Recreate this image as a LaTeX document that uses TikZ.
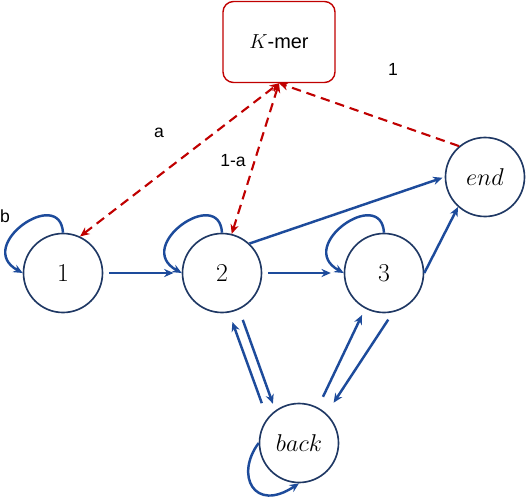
\documentclass[tikz,border=0pt]{standalone}
\usepackage{fontspec}
\setsansfont{Liberation Sans}
\usepackage{tikz}
\usetikzlibrary{arrows.meta}
\definecolor{navy}{HTML}{1F3864}
\definecolor{arrblue}{HTML}{1D4B9B}
\definecolor{darkred}{HTML}{C00000}

\begin{document}
\begin{tikzpicture}[x=0.03cm, y=0.03cm,
  state/.style={draw=navy, line width=1.4pt, circle, minimum size=2.37cm, inner sep=0pt, font=\fontsize{22}{26}\selectfont},
  flow/.style={-{Stealth[length=8pt,width=7pt]}, draw=arrblue, line width=2.1pt},
  link/.style={draw=darkred, line width=1.8pt, dash pattern=on 8pt off 5pt},
  lbl/.style={font=\sffamily\fontsize{15}{17}\selectfont}]
  \useasboundingbox (0,0) rectangle (526,-502);

  % states
  \node[draw=darkred, line width=1.2pt, rounded corners=9pt, minimum width=3.36cm, minimum height=2.43cm]
    (kmer) at (279,-42) {\fontsize{17}{20}\selectfont$K$\sffamily-mer};
  \node[state] (n1) at (63,-273) {1};
  \node[state] (n2) at (222,-273) {2};
  \node[state] (n3) at (384,-273) {3};
  \node[state] (end) at (485,-177) {$end$};
  \node[state] (back) at (299,-443) {$back$};

  % labels
  \node[lbl] (la) at (159,-133) {a};
  \node[lbl] (l1a) at (233,-161) {1-a};
  \node[lbl] (l1) at (393,-69) {1};
  \node[lbl] (lb) at (5,-216) {b};

  % K-mer links
  \draw[link, {Stealth[length=8pt,width=7pt]}-{Stealth[length=8pt,width=7pt]}] (n1.65) -- (kmer.south);
  \draw[link, {Stealth[length=8pt,width=7pt]}-{Stealth[length=8pt,width=7pt]}] (n2.76) -- (kmer.south);
  \draw[link, -{Stealth[length=8pt,width=7pt]}] (end.130) -- (kmer.south);

  % forward moves
  \draw[flow, shorten <=5pt, shorten >=7pt] (n1) -- (n2);
  \draw[flow, shorten <=5pt, shorten >=11pt] (n2) -- (n3);
  \draw[flow, shorten >=2pt] (n2.47) -- (end.180);
  \draw[flow] (n3.east) -- (end.228);

  % to and from back
  \draw[flow, shorten <=13.6pt, shorten >=8.5pt] (back.142) -- (n2.280);
  \draw[flow, shorten <=9.4pt, shorten >=6pt] (n2.295) -- (back.126);
  \draw[flow, shorten <=10pt, shorten >=6pt] (back.62) -- (n3.242);
  \draw[flow, shorten <=7.5pt, shorten >=11pt] (n3.283) -- (back.47);

  % self loops
  \foreach \s in {n1,n2,n3}
    \draw[flow] (\s.north) .. controls +(-3,47) and +(-49,27) .. (\s.west);
  \draw[flow] (back.west) .. controls +(-24,-32) and +(-45,-30) .. (back.south);
\end{tikzpicture}
\end{document}
